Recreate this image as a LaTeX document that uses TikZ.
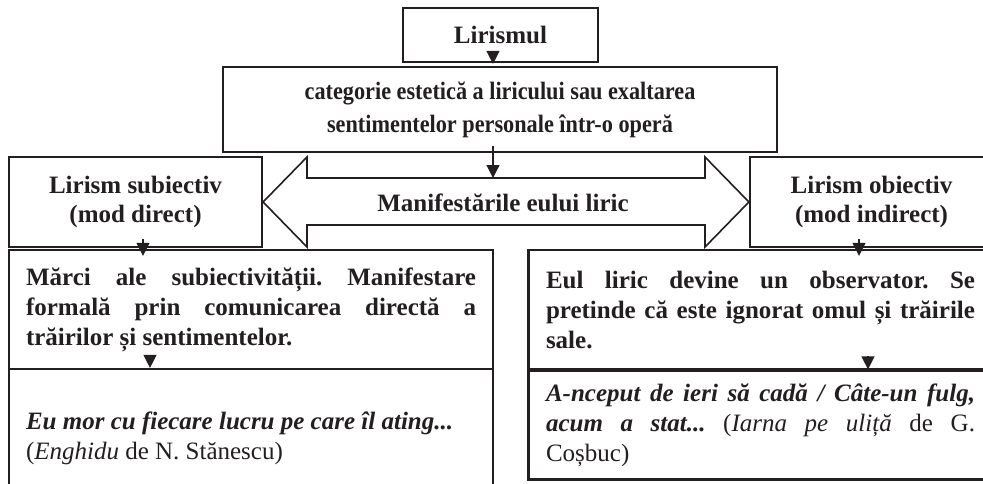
\documentclass[tikz,border=0pt]{standalone}
\usepackage{fontspec}
\usepackage{graphicx}
\setmainfont{Liberation Serif}
\usetikzlibrary{arrows.meta,calc}
\definecolor{ink}{RGB}{35,31,32}
\newcommand{\nohy}{\frenchspacing\hyphenpenalty=10000\exhyphenpenalty=10000\tolerance=10000\emergencystretch=0pt}
\newcommand{\narrowtxt}[1]{\scalebox{0.89}[1]{#1}}
\begin{document}
\begin{tikzpicture}[x=0.5pt,y=-0.5pt,
  box/.style={draw=ink, line width=1.1pt, rectangle, inner sep=0pt, text=ink,
    font=\bfseries\fontsize{12.5pt}{15pt}\selectfont},
  jbox/.style={box, align=justify, inner ysep=0pt},
  arr/.style={draw=ink, line width=0.6pt, -{Triangle[width=6.5pt,length=6.5pt]}},
  dbl/.style={draw=ink, line width=0.8pt, line join=miter}]
\useasboundingbox (0,0) rectangle (983,483);
\fill[white] (0,0) rectangle (983,483);
\clip (0,0) rectangle (983,483);

\coordinate (ax) at (493,0);
\coordinate (c1) at (143,0);
\coordinate (c2) at (859,0);
\coordinate (c3) at (150,0);
\coordinate (c4) at (868,0);

\node[box, minimum width=97.5pt, minimum height=27pt] (lir) at (500.5,35) {Lirismul};
\node[box, minimum width=277pt, minimum height=42.5pt, align=center,
  font=\bfseries\fontsize{12.5pt}{16.5pt}\selectfont] (cat) at (500,109.5)
  {\narrowtxt{categorie estetică a liricului sau exaltarea}\\\narrowtxt{sentimentelor personale într-o operă}};
\node[box, minimum width=126.5pt, minimum height=45pt, align=center,
  font=\bfseries\fontsize{12.5pt}{14.5pt}\selectfont] (subj) at (135.5,202) {Lirism subiectiv\\(mod direct)};
\node[box, minimum width=121.5pt, minimum height=45pt, align=center,
  font=\bfseries\fontsize{12.5pt}{14.5pt}\selectfont] (obj) at (871.5,202) {Lirism obiectiv\\(mod indirect)};

% double arrow
\draw[dbl] (subj.east) -- (307,157) -- (307,178) -- (705,178) -- (705,157) -- (obj.west)
  -- (705,247) -- (705,225) -- (307,225) -- (307,247) -- cycle;
\node[text=ink, font=\bfseries\fontsize{12.5pt}{15pt}\selectfont, anchor=base, inner sep=0pt] (manif) at (503,211) {Manifestările eului liric};
\coordinate (shaftT) at (493,178);

\node[jbox, text width=225pt, inner xsep=8.5pt, minimum height=59.5pt] (marci) at (251,309.5)
  {\nohy Mărci ale subiectivității. Manifestare\linebreak formală prin comunicarea directă a\linebreak trăirilor și sentimentelor.};
\node[jbox, text width=214.5pt, inner xsep=8.75pt, minimum height=59.5pt] (eul) at (760.5,309.5)
  {\nohy Eul liric devine un observator. Se\linebreak pretinde că este ignorat omul și trăirile\linebreak sale.};
\node[jbox, text width=225pt, inner xsep=8.5pt, minimum height=69pt] (ex1) at (251,438)
  {\nohy{\itshape Eu mor cu fiecare lucru pe care îl ating...}\\{\mdseries(\textit{Enghidu} de N. Stănescu)}};
\node[jbox, text width=214.5pt, inner xsep=8.75pt, minimum height=54.5pt] (ex2) at (760.5,425)
  {\nohy{\itshape A-nceput de ieri să cadă / Câte-un fulg,}\linebreak{\itshape acum a stat...} {\mdseries(\textit{Iarna pe uliță} de G.}\linebreak{\mdseries Coșbuc)}};

% connectors
\draw[arr] ($(lir.south -| ax)+(0,-12)$) -- ($(cat.north -| ax)+(0,-2)$);
\draw[arr] ($(cat.south -| ax)+(0,-7)$) -- (shaftT);
\draw[arr] ($(subj.south -| c1)+(0,-9)$) -- ($(marci.north -| c1)+(0,7)$);
\draw[arr] ($(obj.south -| c2)+(0,-9)$) -- ($(eul.north -| c2)+(0,7)$);
\draw[arr] ($(marci.south -| c3)+(0,-14)$) -- (ex1.north -| c3);
\draw[arr] ($(eul.south -| c4)+(0,-14)$) -- (ex2.north -| c4);
\end{tikzpicture}
\end{document}
